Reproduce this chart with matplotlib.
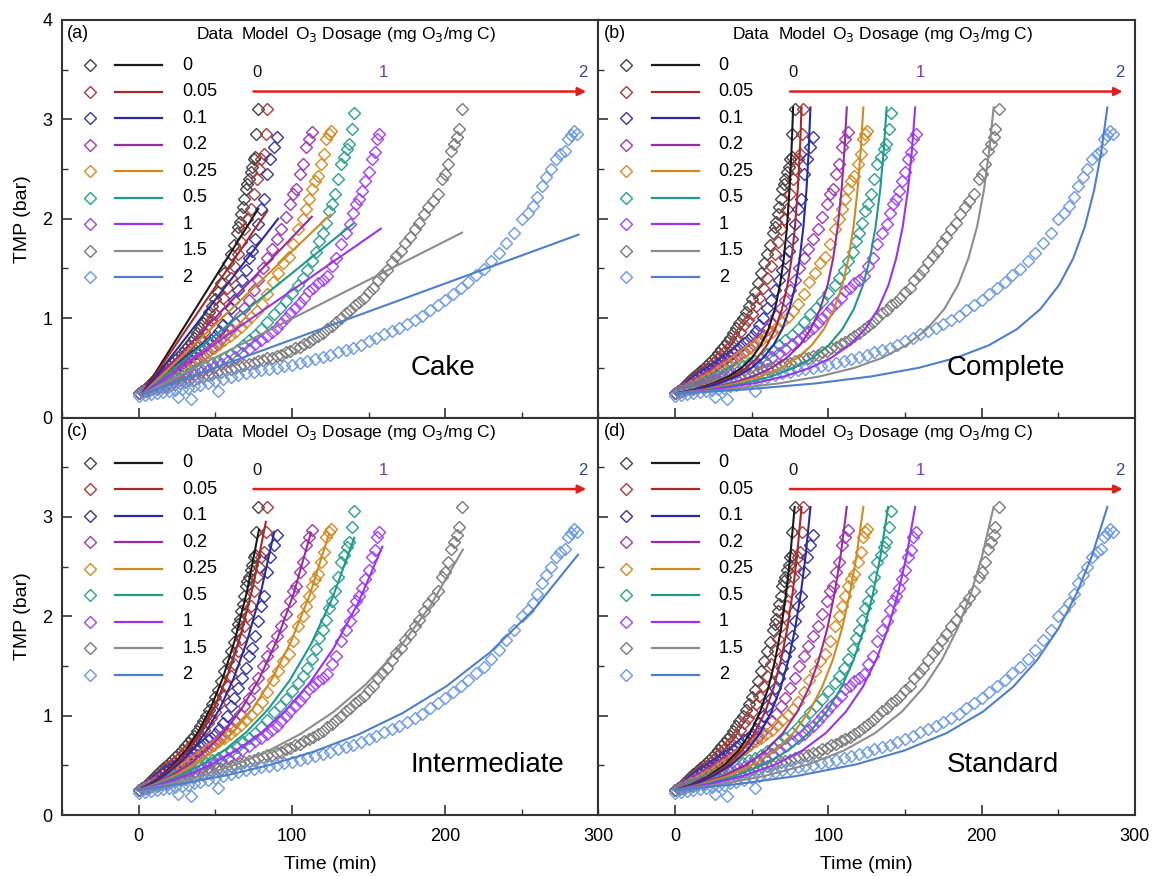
import matplotlib
matplotlib.use('Agg')
import matplotlib.pyplot as plt
from matplotlib.ticker import MultipleLocator

plt.rcParams['font.family'] = ['Liberation Sans', 'DejaVu Sans']

# ozone dosages (mg O3 / mg C)
dose_labels = ['0', '0.05', '0.1', '0.2', '0.25', '0.5', '1', '1.5', '2']
line_colors = ['#1a1a1a', '#a8282c', '#2a2a9c', '#9a2aa2', '#d08a22', '#1f9a8a', '#9a32f0', '#8c8c8c', '#4f7fc8']
data_colors = ['#444444', '#b03a3a', '#3636aa', '#a23ab2', '#d88a22', '#2aa090', '#a442f2', '#7a7a7a', '#6c9ae2']

# ---- measured TMP data (same in all four panels) ----
t_0 = [0, 2, 4, 6, 8, 10, 12, 14, 16, 18, 20, 22, 24, 26, 28, 30, 32, 34, 36, 38, 40, 42, 44, 46, 48, 50,
       52, 54, 56, 58, 60, 62, 64, 65, 66, 67, 68, 69, 70, 71, 72, 73, 74, 75, 76, 76.5, 78]
p_0 = [0.25, 0.27, 0.29, 0.32, 0.35, 0.38, 0.41, 0.44, 0.47, 0.49, 0.52, 0.55, 0.58, 0.61, 0.65, 0.69, 0.72,
       0.76, 0.8, 0.85, 0.9, 0.95, 1.0, 1.06, 1.12, 1.19, 1.26, 1.35, 1.45, 1.55, 1.65, 1.74, 1.86, 1.92, 1.97,
       2.05, 2.12, 2.2, 2.3, 2.35, 2.4, 2.47, 2.52, 2.6, 2.62, 2.85, 3.1]

t_005 = [0, 2.5, 5, 7.5, 10, 12.5, 15, 17.5, 20, 22.5, 25, 27.5, 30, 32.5, 35, 37.5, 40, 42.5, 45, 47.5, 50,
         52.5, 55, 57.5, 60, 62.5, 65, 67, 69, 71, 73, 75, 77, 78.5, 80, 81.5, 83, 83.5]
p_005 = [0.25, 0.27, 0.3, 0.33, 0.36, 0.39, 0.43, 0.46, 0.49, 0.52, 0.55, 0.59, 0.63, 0.67, 0.71, 0.75, 0.8,
         0.86, 0.93, 0.98, 1.04, 1.12, 1.2, 1.3, 1.4, 1.52, 1.65, 1.77, 1.9, 2.0, 2.1, 2.25, 2.4, 2.5, 2.6,
         2.65, 2.85, 3.1]

t_01 = [0, 2.5, 5, 7.5, 10, 12.5, 15, 17.5, 20, 22.5, 25, 27.5, 30, 32.5, 35, 37.5, 40, 42.5, 45, 47.5, 50,
        52.5, 55, 57.5, 60, 62.5, 65, 67.5, 70, 72, 74, 76, 78, 80, 82, 84, 86, 88, 90]
p_01 = [0.25, 0.27, 0.29, 0.32, 0.35, 0.38, 0.41, 0.44, 0.46, 0.49, 0.51, 0.54, 0.57, 0.59, 0.62, 0.65, 0.68,
        0.71, 0.75, 0.78, 0.82, 0.87, 0.93, 1.0, 1.1, 1.18, 1.28, 1.38, 1.48, 1.6, 1.68, 1.8, 1.95, 2.1, 2.2,
        2.45, 2.6, 2.72, 2.82]

t_02 = [0, 3, 6, 9, 12, 15, 18, 21, 24, 27, 30, 33, 36, 39, 42, 45, 48, 51, 54, 57, 60, 63, 66, 69, 72, 75,
        78, 81, 84, 87, 90, 93, 96, 99, 101, 103, 105, 107, 109, 111, 113]
p_02 = [0.25, 0.27, 0.3, 0.32, 0.35, 0.37, 0.4, 0.42, 0.45, 0.48, 0.51, 0.54, 0.57, 0.6, 0.63, 0.66, 0.7, 0.74,
        0.79, 0.84, 0.89, 0.95, 1.02, 1.1, 1.18, 1.28, 1.38, 1.5, 1.6, 1.7, 1.8, 1.9, 2.02, 2.15, 2.25, 2.3,
        2.45, 2.55, 2.72, 2.8, 2.87]

t_025 = [0, 3.5, 7, 10.5, 14, 17.5, 21, 24.5, 28, 31.5, 35, 38.5, 42, 45.5, 49, 52.5, 56, 59.5, 63, 66.5, 70,
         73.5, 77, 80.5, 84, 87.5, 91, 94.5, 98, 101, 104, 107, 109, 111, 113, 115, 117, 119, 121, 122.5, 124,
         125.5]
p_025 = [0.25, 0.27, 0.29, 0.32, 0.34, 0.37, 0.4, 0.43, 0.47, 0.5, 0.54, 0.58, 0.62, 0.66, 0.7, 0.74, 0.78,
         0.82, 0.86, 0.91, 0.96, 1.01, 1.07, 1.14, 1.24, 1.36, 1.45, 1.55, 1.62, 1.75, 1.9, 2.0, 2.1, 2.2, 2.3,
         2.38, 2.43, 2.55, 2.65, 2.8, 2.85, 2.88]

t_05 = [0, 4, 8, 12, 16, 20, 24, 28, 32, 36, 40, 44, 48, 52, 56, 60, 64, 68, 72, 76, 80, 84, 88, 92, 96, 100,
        104, 107, 110, 113, 116, 118, 120, 122, 124, 126, 128, 130, 132, 134, 136, 137.5, 139.5, 140.7]
p_05 = [0.25, 0.27, 0.29, 0.31, 0.34, 0.36, 0.39, 0.42, 0.44, 0.47, 0.5, 0.52, 0.55, 0.57, 0.6, 0.64, 0.68,
        0.73, 0.78, 0.83, 0.89, 0.96, 1.04, 1.1, 1.17, 1.25, 1.33, 1.4, 1.48, 1.57, 1.67, 1.78, 1.86, 1.96,
        2.08, 2.15, 2.25, 2.4, 2.55, 2.62, 2.7, 2.75, 2.9, 3.06]

t_1 = [0, 4.5, 9, 13.5, 18, 22.5, 27, 31.5, 36, 40.5, 45, 49.5, 54, 58.5, 63, 67.5, 72, 76, 80, 84, 87, 90,
       93, 96, 99, 102, 105, 108, 111, 114, 117, 120, 123, 126, 129, 132, 135, 138, 140, 142, 144, 146, 148,
       150, 152, 154, 155.5, 157]
p_1 = [0.25, 0.27, 0.29, 0.31, 0.33, 0.36, 0.38, 0.41, 0.43, 0.46, 0.48, 0.51, 0.54, 0.57, 0.61, 0.65, 0.69,
       0.74, 0.78, 0.82, 0.86, 0.9, 0.95, 1.0, 1.05, 1.1, 1.15, 1.2, 1.27, 1.3, 1.35, 1.38, 1.42, 1.52, 1.6,
       1.75, 1.86, 1.95, 2.06, 2.15, 2.2, 2.28, 2.38, 2.47, 2.6, 2.67, 2.8, 2.85]

t_15 = [0, 3, 6, 9, 12, 15, 18, 21, 24, 27, 30, 33, 36, 39, 42, 45, 48, 51, 54, 57, 60, 63, 66, 69, 72, 75,
        78, 81, 84, 87, 90, 93, 96, 99, 102, 105, 108, 111, 114, 117, 120, 123, 126, 129, 132, 135, 138, 141,
        144, 147, 150, 153, 156, 159, 162, 165, 168, 171, 174, 177, 180, 183, 186, 189, 192, 195, 198, 200,
        202, 204, 206, 208, 209, 211]
p_15 = [0.25, 0.26, 0.27, 0.29, 0.29, 0.31, 0.31, 0.33, 0.34, 0.35, 0.36, 0.38, 0.38, 0.4, 0.41, 0.43, 0.44,
        0.46, 0.46, 0.48, 0.49, 0.5, 0.52, 0.53, 0.54, 0.55, 0.57, 0.58, 0.6, 0.6, 0.62, 0.63, 0.66, 0.67, 0.7,
        0.71, 0.74, 0.76, 0.79, 0.82, 0.85, 0.89, 0.92, 0.96, 1.0, 1.05, 1.08, 1.13, 1.16, 1.2, 1.26, 1.3,
        1.38, 1.43, 1.48, 1.56, 1.63, 1.68, 1.76, 1.82, 1.9, 1.96, 2.05, 2.12, 2.18, 2.25, 2.4, 2.45, 2.55,
        2.68, 2.75, 2.82, 2.9, 3.1]

t_2 = [0, 4, 8, 12, 16, 20, 24, 26, 28, 32, 34, 36, 40, 45, 50, 52, 55, 60, 65, 70, 75, 80, 85, 90, 95, 100,
       105, 110, 115, 120, 125, 130, 135, 140, 145, 150, 155, 160, 165, 170, 175, 180, 185, 190, 195, 200,
       205, 210, 215, 220, 225, 230, 235, 240, 245, 250, 254, 257, 260, 263, 266, 269, 272, 275, 278, 280,
       282, 284, 286]
p_2 = [0.22, 0.23, 0.24, 0.25, 0.26, 0.27, 0.28, 0.21, 0.29, 0.3, 0.19, 0.32, 0.33, 0.35, 0.37, 0.27, 0.39,
       0.41, 0.43, 0.45, 0.46, 0.48, 0.49, 0.5, 0.52, 0.53, 0.55, 0.57, 0.59, 0.61, 0.63, 0.66, 0.68, 0.7,
       0.73, 0.77, 0.8, 0.84, 0.87, 0.9, 0.94, 0.98, 1.02, 1.08, 1.13, 1.18, 1.24, 1.3, 1.36, 1.43, 1.49,
       1.57, 1.66, 1.76, 1.86, 2.0, 2.06, 2.13, 2.22, 2.33, 2.42, 2.5, 2.6, 2.65, 2.68, 2.8, 2.84, 2.88, 2.85]

data_t = [t_0, t_005, t_01, t_02, t_025, t_05, t_1, t_15, t_2]
data_p = [p_0, p_005, p_01, p_02, p_025, p_05, p_1, p_15, p_2]

# ---- model curves ----
# (a) cake filtration: straight lines
cake_start = (2, 0.23)
cake_end_t = [78, 84, 91, 113, 125, 140, 158, 211, 287]
cake_end_p = [2.10, 2.08, 2.00, 2.02, 2.04, 1.95, 1.90, 1.86, 1.84]

# (b) complete blocking
complete_p = [0.24, 0.282, 0.343, 0.414, 0.5, 0.6, 0.727, 0.889, 1.091, 1.333, 1.6, 1.92, 2.29, 2.67, 3.12]
complete_t = [
    [0, 12.5, 25.0, 35.0, 43.4, 50.0, 55.9, 60.9, 65.1, 68.4, 70.9, 73.0, 74.6, 75.9, 77.0],
    [0, 13.4, 26.8, 37.5, 46.5, 53.6, 59.9, 65.3, 69.7, 73.3, 76.0, 78.2, 80.0, 81.4, 82.5],
    [0, 14.4, 28.7, 40.2, 49.8, 57.4, 64.1, 69.9, 74.6, 78.5, 81.3, 83.7, 85.7, 87.1, 88.3],
    [0, 18.2, 36.4, 50.9, 63.1, 72.8, 81.3, 88.5, 94.6, 99.5, 103.1, 106.1, 108.6, 110.4, 112.0],
    [0, 20.0, 39.9, 55.9, 69.2, 79.8, 89.1, 97.1, 103.7, 109.1, 113.1, 116.4, 119.0, 121.0, 122.8],
    [0, 22.4, 44.9, 62.8, 77.7, 89.7, 100.2, 109.1, 116.6, 122.6, 127.1, 130.8, 133.8, 136.0, 138.0],
    [0, 25.5, 50.9, 71.3, 88.2, 101.8, 113.7, 123.9, 132.4, 139.2, 144.2, 148.5, 151.9, 154.4, 156.6],
    [0, 33.8, 67.5, 94.5, 117.1, 135.1, 150.8, 164.3, 175.6, 184.6, 191.3, 197.0, 201.5, 204.8, 207.8],
    [0, 45.8, 91.7, 128.3, 158.9, 183.3, 204.7, 223.0, 238.3, 250.5, 259.7, 267.3, 273.4, 278.0, 282.0],
]

# (c) intermediate blocking
inter_t = [
    [0, 7.85, 15.7, 23.55, 31.4, 39.25, 47.1, 54.95, 62.8, 70.65, 78.5],
    [0, 8.3, 16.6, 24.9, 33.2, 41.5, 49.8, 58.1, 66.4, 74.7, 83.0],
    [0, 8.85, 17.7, 26.55, 35.4, 44.25, 53.1, 61.95, 70.8, 79.65, 88.5],
    [0, 11.24, 22.48, 33.72, 44.96, 56.2, 67.44, 78.68, 89.92, 101.16, 112.4],
    [0, 12.4, 24.8, 37.2, 49.6, 62.0, 74.4, 86.8, 99.2, 111.6, 124.0],
    [0, 14.07, 28.14, 42.21, 56.28, 70.35, 84.42, 98.49, 112.56, 126.63, 140.7],
    [0, 15.9, 31.8, 47.7, 63.6, 79.5, 95.4, 111.3, 127.2, 143.1, 159.0],
    [0, 21.15, 42.3, 63.45, 84.6, 105.75, 126.9, 148.05, 169.2, 190.35, 211.5],
    [0, 28.67, 57.34, 86.01, 114.68, 143.35, 172.02, 200.69, 229.36, 258.03, 286.7],
]
inter_p = [
    [0.25, 0.319, 0.407, 0.520, 0.663, 0.847, 1.081, 1.379, 1.761, 2.247, 2.87],
    [0.25, 0.320, 0.410, 0.524, 0.671, 0.859, 1.099, 1.407, 1.800, 2.305, 2.95],
    [0.25, 0.319, 0.407, 0.519, 0.662, 0.844, 1.077, 1.374, 1.752, 2.235, 2.85],
    [0.25, 0.319, 0.406, 0.518, 0.661, 0.843, 1.075, 1.371, 1.748, 2.229, 2.84],
    [0.25, 0.319, 0.406, 0.517, 0.659, 0.840, 1.070, 1.363, 1.737, 2.213, 2.82],
    [0.25, 0.318, 0.405, 0.515, 0.656, 0.835, 1.063, 1.353, 1.722, 2.191, 2.79],
    [0.25, 0.317, 0.402, 0.511, 0.648, 0.822, 1.043, 1.323, 1.678, 2.129, 2.70],
    [0.25, 0.317, 0.401, 0.509, 0.645, 0.817, 1.035, 1.312, 1.662, 2.106, 2.67],
    [0.25, 0.316, 0.400, 0.506, 0.640, 0.810, 1.024, 1.295, 1.638, 2.072, 2.62],
]

# (d) standard blocking
standard_p = [0.25, 0.309, 0.391, 0.510, 0.650, 0.826, 1.041, 1.291, 1.563, 1.877, 2.228, 2.601, 3.10]
standard_t = [
    [0, 10.9, 21.8, 32.7, 41.4, 49.0, 55.5, 61.0, 65.3, 69.2, 72.4, 75.1, 78.0],
    [0, 11.5, 23.0, 34.6, 43.8, 51.8, 58.8, 64.5, 69.1, 73.2, 76.6, 79.5, 82.5],
    [0, 12.3, 24.7, 37.0, 46.9, 55.5, 62.9, 69.0, 74.0, 78.3, 82.0, 85.1, 88.3],
    [0, 15.6, 31.3, 46.9, 59.4, 70.4, 79.8, 87.6, 93.8, 99.3, 104.0, 107.9, 112.0],
    [0, 17.2, 34.3, 51.5, 65.2, 77.2, 87.5, 96.0, 102.9, 108.9, 114.0, 118.3, 122.8],
    [0, 19.4, 38.8, 58.2, 73.8, 87.3, 99.0, 108.7, 116.5, 123.3, 129.1, 133.9, 139.0],
    [0, 21.9, 43.7, 65.6, 83.1, 98.4, 111.5, 122.5, 131.2, 138.9, 145.4, 150.9, 156.6],
    [0, 29.0, 58.0, 87.1, 110.3, 130.6, 148.0, 162.5, 174.1, 184.3, 193.0, 200.2, 207.8],
    [0, 39.4, 78.8, 118.2, 149.7, 177.3, 200.9, 220.6, 236.3, 250.1, 261.9, 271.8, 282.0],
]

cake_curves = [([cake_start[0], cake_end_t[i]], [cake_start[1], cake_end_p[i]]) for i in range(9)]
complete_curves = [(complete_t[i], complete_p) for i in range(9)]
inter_curves = [(inter_t[i], inter_p[i]) for i in range(9)]
standard_curves = [(standard_t[i], standard_p) for i in range(9)]

panels = [
    ('(a)', 'Cake', cake_curves),
    ('(b)', 'Complete', complete_curves),
    ('(c)', 'Intermediate', inter_curves),
    ('(d)', 'Standard', standard_curves),
]

fig, axs = plt.subplots(2, 2, figsize=(11.52, 8.76), dpi=100)
fig.subplots_adjust(left=0.0538, right=0.9852, top=0.9772, bottom=0.0696, hspace=0, wspace=0)

for k, ax in enumerate(axs.flat):
    tag, name, curves = panels[k]

    # data
    for i in range(9):
        ax.plot(data_t[i], data_p[i], ls='none', marker='D', ms=6, mfc='none',
                mec=data_colors[i], mew=1.0, zorder=2)
    # model
    for i in range(9):
        ax.plot(curves[i][0], curves[i][1], color=line_colors[i], lw=1.5, zorder=3)

    ax.set_xlim(-50, 300)
    ax.set_ylim(0, 4)
    ax.xaxis.set_major_locator(MultipleLocator(100))
    ax.xaxis.set_minor_locator(MultipleLocator(50))
    ax.yaxis.set_major_locator(MultipleLocator(1))
    ax.yaxis.set_minor_locator(MultipleLocator(0.5))
    ax.tick_params(which='both', direction='in', labelsize=13, color='#333333')
    ax.tick_params(which='major', length=7, width=1.2)
    ax.tick_params(which='minor', length=4, width=1.0)
    ax.tick_params(axis='y', pad=7)
    ax.tick_params(axis='x', pad=9)
    for s in ax.spines.values():
        s.set_linewidth(1.5)
        s.set_color('#333333')

    # key
    for i, lab in enumerate(dose_labels):
        y = 0.886 - i * 0.0666
        ax.plot([0.052], [y], transform=ax.transAxes, ls='none', marker='D', ms=6,
                mfc='none', mec=data_colors[i], mew=1.0)
        ax.plot([0.099, 0.187], [y, y], transform=ax.transAxes, color=line_colors[i], lw=1.6)
        ax.text(0.224, y, lab, transform=ax.transAxes, fontsize=13, va='center')

    ax.text(0.01, 0.965, tag, transform=ax.transAxes, fontsize=13, va='center')
    ax.text(0.251, 0.963, 'Data', transform=ax.transAxes, fontsize=12.5, va='center')
    ax.text(0.335, 0.963, 'Model', transform=ax.transAxes, fontsize=12.5, va='center')
    ax.text(0.435, 0.963, 'O$_3$ Dosage (mg O$_3$/mg C)', transform=ax.transAxes,
            fontsize=12.5, va='center')

    # dosage arrow
    ax.annotate('', xy=(292, 3.28), xytext=(75, 3.28),
                arrowprops=dict(arrowstyle='-|>', color='#e01e1e', lw=1.8,
                                mutation_scale=12, shrinkA=0, shrinkB=0))
    ax.text(77, 3.47, '0', ha='center', va='center', fontsize=12, color='#111111')
    ax.text(160, 3.47, '1', ha='center', va='center', fontsize=12, color='#7a3aa8')
    ax.text(290, 3.47, '2', ha='center', va='center', fontsize=12, color='#2a4a8a')

    ax.text(0.649, 0.125, name, transform=ax.transAxes, fontsize=20, va='center')

# tick labels
axs[0, 0].tick_params(labelbottom=False)
axs[0, 1].tick_params(labelbottom=False, labelleft=False)
axs[1, 1].tick_params(labelleft=False)
axs[1, 0].set_yticks([0, 1, 2, 3, 4])
axs[1, 0].set_yticklabels(['0', '1', '2', '3', ''])

for ax in axs[:, 0]:
    ax.set_ylabel('TMP (bar)', fontsize=14, labelpad=8)
for ax in axs[1, :]:
    ax.set_xlabel('Time (min)', fontsize=14, labelpad=8)

fig.savefig('out.png', dpi=100)
